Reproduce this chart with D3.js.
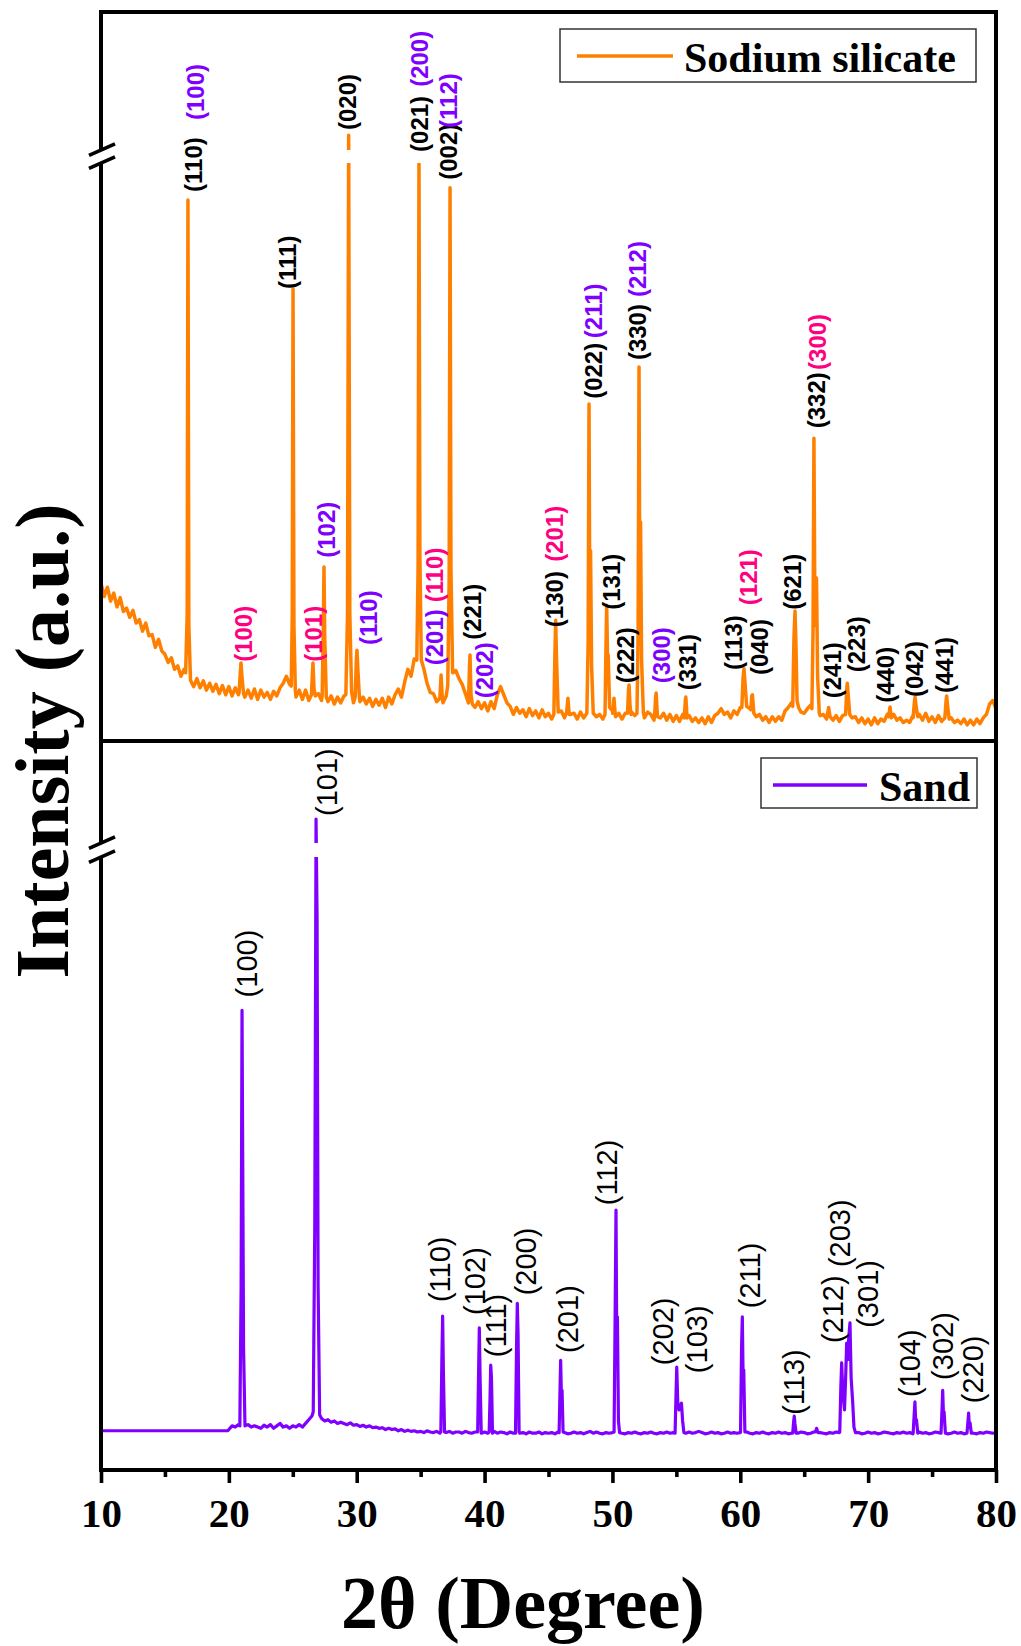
<!DOCTYPE html>
<html>
<head>
<meta charset="utf-8">
<script src="https://cdn.jsdelivr.net/npm/d3@7"></script>
<style>
  body { margin: 0; background: #fff; }
  svg { display: block; }
</style>
</head>
<body>
<svg id="chart" width="1021" height="1646"></svg>
<script>
// ---------- data ----------
const thetaTicks = [10, 20, 30, 40, 50, 60, 70, 80];
const thetaMinorTicks = [15, 25, 35, 45, 55, 65, 75];

// Sodium silicate pattern: background counts on a 0.25° grid from 10° to 80°
const sodiumGridStart = 10;
const sodiumBackground = [
  273, 250, 266, 242,  256, 232, 248, 224,  230, 214, 226, 204,  210, 190, 204, 182,
  184, 162, 176, 156,  150, 136, 144, 124,  130, 112, 124, 108,  110, 94, 108, 92,
  104, 88, 100, 86,    98, 82, 96, 80,      94, 78, 92, 80,      92, 76, 88, 74,
  90, 72, 88, 76,      84, 72, 86, 78,      92, 100, 112, 98,    92, 76, 88, 72,
  88, 70, 84, 90,      82, 70, 80, 68,      78, 64, 76, 66,      78, 64, 80, 66,
  82, 68, 76, 64,      74, 60, 72, 62,      74, 58, 76, 64,      80, 90, 76, 102,
  124, 112, 142, 128,  150, 125, 100, 84,   82, 68, 80, 66,      78, 94, 112, 122,
  108, 98, 82, 72,     70, 58, 68, 56,      66, 52, 68, 56,      80, 94, 80, 66,
  60, 46, 58, 48,      54, 42, 56, 44,      52, 40, 54, 42,      48, 38, 50, 40,
  52, 40, 58, 46,      48, 38, 50, 40,      48, 40, 52, 42,      46, 38, 50, 40,
  52, 42, 48, 38,      48, 38, 50, 44,      56, 42, 40, 50,      46, 36, 50, 40,
  48, 36, 46, 34,      44, 34, 46, 42,      44, 34, 40, 32,      40, 30, 42, 32,
  44, 48, 56, 46,      50, 40, 52, 46,      58, 52, 64, 56,      52, 42, 46, 36,
  42, 32, 42, 34,      42, 36, 52, 58,      66, 56, 58, 50,      48, 56, 62, 64,
  56, 44, 46, 38,      48, 36, 44, 34,      44, 38, 50, 40,      42, 32, 40, 30,
  38, 28, 40, 30,      38, 34, 46, 50,      46, 36, 40, 32,      36, 32, 44, 46,
  46, 36, 48, 34,      42, 32, 44, 34,      46, 36, 40, 32,      36, 30, 38, 28,
  36, 28, 38, 30,      40, 46, 64, 70,      56
];

// Sodium silicate reflections: [2θ, counts] profile points
const sodiumPeaks = [
  [[16.62, 118], [16.74, 220], [16.80, 936], [16.87, 200], [17.00, 105]],
  [[20.80, 84], [20.90, 120], [20.95, 135], [21.02, 112], [21.15, 82]],
  [[24.88, 95], [24.96, 220], [25.02, 782], [25.09, 200], [25.20, 88]],
  [[26.46, 80], [26.54, 120], [26.58, 135], [26.66, 90], [26.76, 78]],
  [[27.30, 80], [27.39, 200], [27.44, 301], [27.50, 180], [27.62, 76]],
  [[29.15, 80], [29.28, 220], [29.37, 1143], [29.46, 220], [29.60, 85]],
  [[29.88, 76], [29.97, 140], [30.02, 157], [30.10, 120], [30.22, 72]],
  [[34.70, 140], [34.80, 300], [34.87, 1050], [34.94, 320], [35.05, 140]],
  [[36.50, 74], [36.60, 114], [36.70, 72]],
  [[37.12, 96], [37.23, 280], [37.30, 957], [37.37, 300], [37.50, 118]],
  [[38.74, 66], [38.82, 130], [38.86, 149], [38.94, 80], [39.04, 64]],
  [[45.42, 46], [45.50, 150], [45.56, 209], [45.63, 140], [45.76, 50]],
  [[46.42, 50], [46.52, 74], [46.62, 46]],
  [[48.00, 48], [48.10, 170], [48.17, 583], [48.23, 220], [48.29, 329], [48.37, 130], [48.50, 48]],
  [[49.42, 46], [49.50, 170], [49.55, 235], [49.62, 140], [49.67, 149], [49.78, 58]],
  [[50.02, 48], [50.12, 74], [50.22, 46]],
  [[51.18, 48], [51.26, 90], [51.30, 97], [51.38, 60], [51.46, 46]],
  [[51.92, 48], [52.01, 190], [52.08, 647], [52.14, 260], [52.20, 379], [52.28, 140], [52.42, 50]],
  [[53.30, 44], [53.38, 76], [53.42, 83], [53.52, 42]],
  [[55.62, 40], [55.70, 70], [55.74, 76], [55.84, 40]],
  [[60.12, 58], [60.22, 110], [60.29, 125], [60.37, 100], [60.50, 60]],
  [[60.82, 54], [60.90, 78], [60.95, 80], [61.06, 48]],
  [[64.10, 60], [64.20, 180], [64.28, 225], [64.35, 170], [64.44, 70], [64.56, 58]],
  [[65.60, 56], [65.69, 190], [65.76, 524], [65.84, 200], [65.96, 282], [66.05, 110], [66.18, 48]],
  [[66.80, 44], [66.91, 58], [67.02, 42]],
  [[68.24, 46], [68.32, 90], [68.37, 100], [68.44, 80], [68.56, 46]],
  [[71.60, 42], [71.71, 59], [71.82, 40]],
  [[73.52, 40], [73.61, 66], [73.67, 76], [73.75, 60], [73.88, 42]],
  [[76.00, 40], [76.09, 68], [76.14, 78], [76.22, 60], [76.34, 38]]
];

// Sand pattern: flat stretch below 20°, then background on a 0.25° grid from 20° to 80°
const sandLead = [[10, 64], [19.9, 64]];
const sandGridStart = 20;
const sandBackground = [
  66, 72, 70, 74,  72, 68, 74, 70,  72, 70, 68, 73,  70, 74, 68, 72,
  76, 70, 72, 68,  72, 70, 74, 70,  76, 82, 88, 92,  90, 84, 80, 82,
  78, 80, 76, 78,  76, 74, 77, 73,  74, 71, 73, 70,  72, 69, 70, 68,
  69, 66, 68, 66,  67, 64, 66, 63,  65, 63, 64, 62,  63, 61, 64, 62,
  61, 63, 60, 62,  61, 63, 60, 62,  62, 60, 63, 61,  60, 62, 61, 60,
  62, 60, 61, 63,  60, 62, 61, 59,  62, 60, 61, 60,  61, 59, 62, 60,
  60, 62, 59, 61,  60, 61, 59, 62,  60, 61, 59, 60,  62, 60, 61, 59,
  61, 63, 60, 62,  60, 59, 61, 60,  61, 60, 62, 60,  59, 61, 60, 62,
  60, 59, 61, 60,  62, 60, 59, 61,  60, 62, 60, 61,  60, 61, 59, 60,
  62, 60, 61, 63,  61, 59, 60, 62,  60, 61, 59, 60,  62, 60, 61, 60,
  61, 60, 62, 60,  59, 61, 60, 62,  60, 59, 61, 60,  62, 60, 61, 59,
  60, 61, 60, 62,  61, 59, 60, 62,  63, 61, 60, 59,  61, 60, 62, 61,
  60, 61, 60, 62,  60, 61, 59, 60,  62, 60, 61, 59,  60, 62, 61, 60,
  59, 61, 60, 62,  60, 61, 59, 60,  62, 60, 61, 59,  60, 62, 61, 60,
  61, 59, 60, 62,  60, 61, 59, 60,  62, 60, 59, 61,  60, 62, 61, 60,
  61
];

// Sand (quartz) reflections: [2θ, counts] profile points
const sandPeaks = [
  [[20.86, 72], [20.96, 300], [21.03, 750], [21.09, 480], [21.15, 200], [21.26, 72]],
  [[26.60, 95], [26.72, 400], [26.82, 1194], [26.90, 900], [26.98, 300], [27.10, 90]],
  [[36.58, 62], [36.66, 180], [36.72, 251], [36.78, 160], [36.87, 62]],
  [[39.46, 62], [39.54, 170], [39.59, 232], [39.65, 150], [39.74, 60]],
  [[40.36, 62], [40.43, 120], [40.48, 171], [40.54, 150], [40.62, 60]],
  [[42.42, 60], [42.50, 200], [42.56, 272], [42.62, 220], [42.70, 62]],
  [[45.83, 61], [45.90, 130], [45.95, 179], [46.01, 120], [46.06, 130], [46.14, 62]],
  [[50.13, 62], [50.21, 250], [50.28, 424], [50.34, 200], [50.39, 250], [50.47, 80], [50.56, 61]],
  [[54.90, 60], [54.97, 120], [55.03, 168], [55.11, 110], [55.21, 98], [55.31, 104], [55.40, 109], [55.49, 80], [55.59, 61]],
  [[60.02, 62], [60.10, 200], [60.16, 250], [60.22, 150], [60.27, 163], [60.36, 62]],
  [[64.10, 60], [64.18, 80], [64.22, 88], [64.28, 75], [64.37, 60]],
  [[65.88, 62], [65.97, 68], [66.07, 61]],
  [[67.78, 62], [67.87, 140], [67.93, 175], [68.01, 130], [68.15, 98], [68.24, 150], [68.32, 207],
   [68.41, 180], [68.48, 215], [68.58, 240], [68.67, 150], [68.79, 111], [68.89, 70], [69.01, 61]],
  [[73.52, 60], [73.60, 90], [73.66, 111], [73.72, 78], [73.78, 82], [73.88, 60]],
  [[75.70, 60], [75.78, 100], [75.83, 130], [75.89, 90], [75.94, 95], [76.04, 60]],
  [[77.73, 60], [77.81, 80], [77.86, 93], [77.91, 70], [77.97, 77], [78.07, 60]]
];

// Miller-index labels: [text, 2θ, counts at label foot, phase]
const sodiumLabels = [
  ["(110)", 17.27, 950, "k"], ["(100)", 17.43, 1187, "p"],
  ["(111)", 24.63, 782, "k"],
  ["(020)", 29.32, 1158, "k"],
  ["(021)", 34.95, 1085, "k"], ["(200)", 34.95, 1283, "p"],
  ["(002)", 37.22, 971, "k"], ["(112)", 37.22, 1164, "p"],
  ["(100)", 21.18, 137, "m"], ["(101)", 26.66, 137, "m"],
  ["(102)", 27.68, 317, "p"], ["(110)", 30.96, 166, "p"],
  ["(201)", 36.12, 131, "p"], ["(110)", 36.12, 240, "m"],
  ["(221)", 39.09, 175, "k"], ["(202)", 40.03, 74, "p"],
  ["(130)", 45.51, 197, "k"], ["(201)", 45.51, 310, "m"],
  ["(022)", 48.56, 592, "k"], ["(211)", 48.56, 697, "p"],
  ["(131)", 49.97, 227, "k"], ["(222)", 51.06, 100, "k"],
  ["(330)", 52.0, 659, "k"], ["(212)", 52.0, 768, "p"],
  ["(300)", 53.88, 100, "p"], ["(331)", 55.91, 88, "k"],
  ["(113)", 59.51, 123, "k"], ["(040)", 61.54, 114, "k"], ["(121)", 60.68, 235, "m"],
  ["(621)", 64.12, 227, "k"],
  ["(332)", 66.0, 541, "k"], ["(300)", 66.08, 642, "m"],
  ["(241)", 67.25, 74, "k"], ["(223)", 69.13, 119, "k"],
  ["(440)", 71.4, 66, "k"], ["(042)", 73.67, 76, "k"], ["(441)", 76.01, 83, "k"]
];

const sandLabels = [
  ["(100)", 21.42, 771], ["(101)", 27.68, 1206],
  ["(110)", 36.51, 274], ["(102)", 39.25, 253], ["(111)", 40.89, 184],
  ["(200)", 43.24, 285], ["(201)", 46.52, 191], ["(112)", 49.57, 432],
  ["(202)", 53.95, 171], ["(103)", 56.61, 158], ["(211)", 60.76, 264],
  ["(113)", 64.2, 90], ["(212)", 67.25, 207], ["(203)", 67.8, 331],
  ["(301)", 69.99, 232], ["(104)", 73.27, 119], ["(302)", 75.85, 147],
  ["(220)", 78.2, 109]
];

const seriesNames = ["Sodium silicate", "Sand"];

// ---------- layout ----------
const W = 1021, H = 1646;
const plotL = 101, plotR = 996, plotT = 12, plotMid = 741, plotB = 1470;

const orange = "#FF8000";
const violet = "#8000FF";
const phaseColor = d3.scaleOrdinal().domain(["k", "p", "m"]).range(["#000000", "#8000FF", "#FF0080"]);

const x = d3.scaleLinear().domain([10, 80]).range([plotL, plotR]);
// broken intensity axes: lower segment 0–1000, upper segment 1100–1500
const yTop = d3.scaleLinear().domain([0, 1000, 1100, 1500]).range([plotMid, 163, 150, plotT]);
const yBot = d3.scaleLinear().domain([0, 1000, 1100, 1500]).range([plotB, 857, 843, plotMid]);

function buildTrace(start, step, background, peaks, lead) {
  const pts = background.map((v, i) => [start + i * step, v]);
  const spans = peaks.map(p => [p[0][0], p[p.length - 1][0]]);
  const kept = pts.filter(([t]) => !spans.some(([a, b]) => t >= a && t <= b));
  return kept.concat(...peaks).concat(lead || []).sort((a, b) => a[0] - b[0]);
}

const sodiumTrace = buildTrace(sodiumGridStart, 0.25, sodiumBackground, sodiumPeaks);
const sandTrace = buildTrace(sandGridStart, 0.25, sandBackground, sandPeaks, sandLead);

const svg = d3.select("#chart");
svg.append("rect").attr("width", W).attr("height", H).attr("fill", "#fff");

const defs = svg.append("defs");
function clip(id, y0, y1) {
  defs.append("clipPath").attr("id", id)
    .append("rect").attr("x", plotL).attr("y", y0).attr("width", plotR - plotL).attr("height", y1 - y0);
}
clip("clip-top-low", yTop(1000), plotMid);
clip("clip-top-high", plotT, yTop(1100));
clip("clip-bot-low", yBot(1000), plotB);
clip("clip-bot-high", plotMid, yBot(1100));

function drawTrace(data, y, color, width, lowId, highId) {
  const line = d3.line().x(d => x(d[0])).y(d => y(d[1]));
  [lowId, highId].forEach(id => {
    svg.append("path")
      .attr("clip-path", `url(#${id})`)
      .attr("d", line(data))
      .attr("fill", "none")
      .attr("stroke", color)
      .attr("stroke-width", width)
      .attr("stroke-linejoin", "round");
  });
}
drawTrace(sodiumTrace, yTop, orange, 3.5, "clip-top-low", "clip-top-high");
drawTrace(sandTrace, yBot, violet, 3.2, "clip-bot-low", "clip-bot-high");

// ---------- peak labels ----------
svg.append("g")
  .attr("font-family", "'Liberation Sans', Arial, sans-serif")
  .attr("font-weight", "bold")
  .attr("font-size", 24)
  .selectAll("text").data(sodiumLabels).join("text")
  .attr("transform", d => `translate(${x(d[1])},${yTop(d[2])}) rotate(-90)`)
  .attr("dy", "0.33em")
  .attr("fill", d => phaseColor(d[3]))
  .text(d => d[0]);

svg.append("g")
  .attr("font-family", "'Liberation Sans', Arial, sans-serif")
  .attr("font-size", 29)
  .attr("fill", "#000")
  .selectAll("text").data(sandLabels).join("text")
  .attr("transform", d => `translate(${x(d[1])},${yBot(d[2])}) rotate(-90)`)
  .attr("dy", "0.33em")
  .text(d => d[0]);

// ---------- frame ----------
const frame = svg.append("g").attr("stroke", "#000").attr("stroke-width", 4).attr("fill", "none");
frame.append("path").attr("d", `M${plotL - 2},${plotT}H${plotR + 2}`);
frame.append("path").attr("d", `M${plotR},${plotT - 2}V${plotB + 2}`);
frame.append("path").attr("d", `M${plotL},${plotMid}H${plotR}`);
frame.append("path").attr("d", `M${plotL - 2},${plotB}H${plotR + 2}`);
frame.append("path").attr("d", `M${plotL},${plotT - 2}V${yTop(1100)}`);
frame.append("path").attr("d", `M${plotL},${yTop(1000)}V${yBot(1100)}`);
frame.append("path").attr("d", `M${plotL},${yBot(1000)}V${plotB + 2}`);

// axis-break marks
function breakMarks(yA, yB) {
  [yA, yB].forEach(yy => {
    frame.append("path")
      .attr("stroke-width", 3.6)
      .attr("d", `M${plotL - 12},${yy + 5.3}L${plotL + 14},${yy - 6.2}`);
  });
}
breakMarks(yTop(1100), yTop(1000));
breakMarks(yBot(1100), yBot(1000));

// ---------- x axis ----------
const axisG = svg.append("g").attr("transform", `translate(0,${plotB})`);
axisG.call(d3.axisBottom(x).tickValues(thetaTicks).tickSize(13).tickPadding(15).tickFormat(d3.format("d")));
const minorG = svg.append("g").attr("transform", `translate(0,${plotB})`);
minorG.call(d3.axisBottom(x).tickValues(thetaMinorTicks).tickSize(7).tickFormat(""));
[axisG, minorG].forEach(g => {
  g.select(".domain").remove();
  g.selectAll(".tick line").attr("stroke", "#000").attr("stroke-width", 3.6);
});
axisG.selectAll(".tick text")
  .attr("font-family", "'Liberation Serif', 'Times New Roman', serif")
  .attr("font-weight", "bold")
  .attr("font-size", 41)
  .attr("fill", "#000");

// ---------- titles ----------
svg.append("text")
  .attr("x", 523).attr("y", 1628)
  .attr("text-anchor", "middle")
  .attr("font-family", "'Liberation Serif', 'Times New Roman', serif")
  .attr("font-weight", "bold")
  .attr("font-size", 74)
  .text("2θ (Degree)");

svg.append("text")
  .attr("transform", "translate(68,741) rotate(-90)")
  .attr("text-anchor", "middle")
  .attr("font-family", "'Liberation Serif', 'Times New Roman', serif")
  .attr("font-weight", "bold")
  .attr("font-size", 76)
  .text("Intensity (a.u.)");

// ---------- legends ----------
function legend(bx, by, bw, bh, color, name, lx0, lx1, ly, tx, ty) {
  const g = svg.append("g");
  g.append("rect").attr("x", bx).attr("y", by).attr("width", bw).attr("height", bh)
    .attr("fill", "#fff").attr("stroke", "#333").attr("stroke-width", 1.5);
  g.append("line").attr("x1", lx0).attr("x2", lx1).attr("y1", ly).attr("y2", ly)
    .attr("stroke", color).attr("stroke-width", 3.6);
  g.append("text").attr("x", tx).attr("y", ty)
    .attr("font-family", "'Liberation Serif', 'Times New Roman', serif")
    .attr("font-weight", "bold").attr("font-size", 42).text(name);
}
legend(560, 29, 416, 53, orange, seriesNames[0], 577, 673, 56, 684, 72);
legend(761, 758, 216, 50, violet, seriesNames[1], 773, 867, 785, 879, 801);
</script>
</body>
</html>
